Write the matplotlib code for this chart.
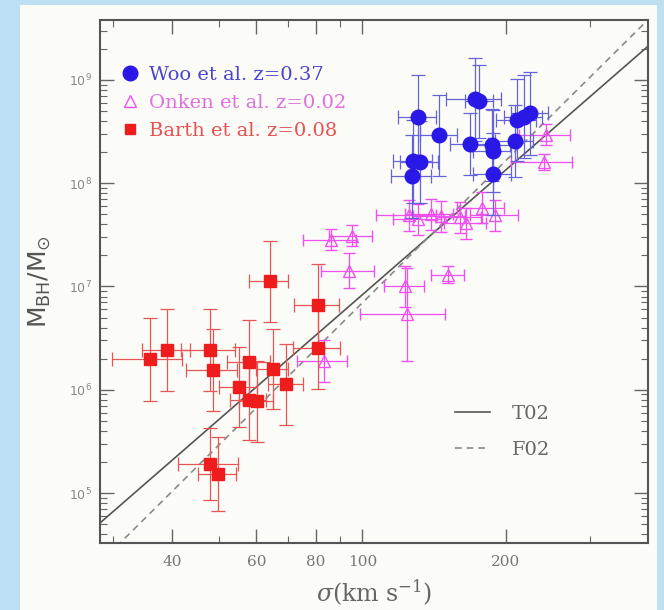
import matplotlib
matplotlib.use('Agg')
import matplotlib.pyplot as plt
import numpy as np
from matplotlib.lines import Line2D
from matplotlib.patches import Rectangle
from matplotlib.ticker import FixedLocator, FixedFormatter, LogLocator, NullFormatter

plt.rcParams['mathtext.fontset'] = 'dejavuserif'

# Woo et al. z=0.37  (sigma in km/s, M_BH in M_sun, errors: km/s and dex)
woo_sigma = [131, 145, 172.5, 176, 168, 187, 188, 188, 209, 211, 218, 225, 128, 132, 127]
woo_mbh = [4.4e8, 2.9e8, 6.5e8, 6.2e8, 2.4e8, 2.35e8, 2.06e8, 1.23e8, 2.57e8, 4.09e8, 4.4e8,
           4.74e8, 1.63e8, 1.6e8, 1.17e8]
woo_sig_err = [12, 13, 23, 12, 15, 17, 17, 17, 19, 20, 20, 20, 12, 12, 12]
woo_dex_err = [0.4, 0.39, 0.4, 0.35, 0.3, 0.35, 0.4, 0.4, 0.35, 0.4, 0.4, 0.4, 0.4, 0.4, 0.4]

# Onken et al. z=0.02
onken_sigma = [243, 240, 125, 131, 139, 146, 160, 165, 178, 190, 86, 95, 94, 123, 151, 124, 83]
onken_mbh = [2.96e8, 1.61e8, 4.9e7, 4.5e7, 5.0e7, 4.8e7, 4.7e7, 4.1e7, 5.8e7, 4.9e7,
             2.84e7, 3.1e7, 1.42e7, 1.0e7, 1.3e7, 5.4e6, 1.9e6]
onken_sig_err = [30, 35, 18, 15, 16, 18, 17, 17, 20, 22, 11, 10, 12, 12, 12, 25, 10]
onken_dex_err = [0.1, 0.08, 0.15, 0.15, 0.15, 0.15, 0.15, 0.15, 0.15, 0.15, 0.1, 0.1,
                 0.17, 0.2, 0.08, 0.45, 0.2]

# Barth et al. z=0.08
barth_sigma = [35.9, 39.0, 47.9, 48.7, 58.0, 65.0, 55.1, 57.8, 60.1, 69.2, 63.9, 80.6, 80.7, 48.0, 49.8]
barth_mbh = [1.97e6, 2.43e6, 2.43e6, 1.56e6, 1.87e6, 1.59e6, 1.06e6, 8.0e5, 7.7e5, 1.13e6,
             1.12e7, 6.56e6, 2.55e6, 1.9e5, 1.52e5]
barth_sig_err = [6, 4.5, 6.2, 6, 6, 5, 5, 5, 5, 5.8, 6, 8.7, 9, 7, 4.5]
barth_dex_err = [0.4, 0.4, 0.4, 0.4, 0.4, 0.39, 0.39, 0.39, 0.39, 0.39, 0.39, 0.4, 0.4, 0.35, 0.36]

# local relations: log M = a + b log(sigma/200)
t02_a, t02_b = 8.13, 4.02
f02_a, f02_b = 8.22, 4.58

x_ticks = [40, 60, 80, 100, 200]
x_minor = [30, 50, 70, 90, 300]

bg_blue = '#bddff4'
panel = '#fbfbf8'

fig = plt.figure(figsize=(6.64, 6.10), dpi=100, facecolor=bg_blue)
fig.patches.append(Rectangle((20 / 664, 0), 637 / 664, 1 - 5 / 610, transform=fig.transFigure,
                             facecolor=panel, edgecolor='none', zorder=-10))
ax = fig.add_axes([100 / 664, 1 - 543 / 610, 548 / 664, 523 / 610])
ax.set_facecolor(panel)
ax.set_xscale('log')
ax.set_yscale('log')


def yerr_of(m, d):
    m = np.asarray(m)
    d = np.asarray(d)
    return [m * (1 - 10 ** -d), m * (10 ** d - 1)]


# relations
sig = np.logspace(np.log10(25), np.log10(420), 50)
ax.plot(sig, 10 ** (t02_a + t02_b * np.log10(sig / 200)), color='#555555', lw=1.2, zorder=2)
ax.plot(sig, 10 ** (f02_a + f02_b * np.log10(sig / 200)), color='#8a8a8a', lw=1.2,
        dashes=(4, 3), zorder=2)

mag = '#f050f0'
ax.errorbar(onken_sigma, onken_mbh, xerr=onken_sig_err, yerr=yerr_of(onken_mbh, onken_dex_err),
            fmt='^', ms=8, mfc='none', mec=mag, mew=1.0, ecolor=mag, elinewidth=0.9,
            capsize=4, capthick=0.9, zorder=3)
red = '#ee1c1c'
ax.errorbar(barth_sigma, barth_mbh, xerr=barth_sig_err, yerr=yerr_of(barth_mbh, barth_dex_err),
            fmt='s', ms=8.5, color=red, ecolor='#e85555', elinewidth=0.9,
            capsize=5, capthick=0.9, zorder=4)
blue = '#2a18e6'
ax.errorbar(woo_sigma, woo_mbh, xerr=woo_sig_err, yerr=yerr_of(woo_mbh, woo_dex_err),
            fmt='o', ms=10.5, color=blue, ecolor='#6464d8', elinewidth=0.9,
            capsize=5, capthick=0.9, zorder=5)

ax.set_xlim(28.2, 397)
ax.set_ylim(3.28e4, 3.81e9)

ax.xaxis.set_major_locator(FixedLocator(x_ticks))
ax.xaxis.set_major_formatter(FixedFormatter([str(v) for v in x_ticks]))
ax.xaxis.set_minor_locator(FixedLocator(x_minor))
ax.xaxis.set_minor_formatter(NullFormatter())
ax.yaxis.set_major_locator(LogLocator(base=10))
ax.yaxis.set_minor_locator(LogLocator(base=10, subs=np.arange(2, 10)))
ax.yaxis.set_minor_formatter(NullFormatter())

ax.tick_params(which='both', direction='in', top=True, right=True, color='#666666')
ax.tick_params(which='major', length=10, width=1)
ax.tick_params(which='minor', length=5, width=0.8)
ax.tick_params(axis='x', which='major', labelsize=11, labelcolor='#777777', pad=9)
ax.tick_params(axis='y', which='major', labelsize=9, labelcolor='#888888', pad=6)
for lab in ax.get_xticklabels():
    lab.set_family('DejaVu Serif')
for s in ax.spines.values():
    s.set_color('#555555')
    s.set_linewidth(1.5)

ax.set_xlabel(r'$\sigma$(km s$^{-1}$)', family='DejaVu Serif', fontsize=17, color='#666666',
              labelpad=6)
ax.set_ylabel(r'$\mathsf{M_{BH}/M_{\odot}}$', fontsize=18, color='#555555')
ax.yaxis.set_label_coords(-0.085, 0.5)

h_data = [Line2D([], [], ls='none', marker='o', ms=10.5, color=blue),
          Line2D([], [], ls='none', marker='^', ms=9, mfc='none', mec=mag, mew=1.0),
          Line2D([], [], ls='none', marker='s', ms=7.5, color=red)]
leg1 = ax.legend(h_data, ['Woo et al. z=0.37', 'Onken et al. z=0.02', 'Barth et al. z=0.08'],
                 loc='upper left', bbox_to_anchor=(0.005, 0.945), frameon=False,
                 handlelength=1.0, handletextpad=0.5, labelspacing=0.5,
                 prop={'family': 'DejaVu Serif', 'size': 14},
                 labelcolor=['#4a44cc', '#e070e0', '#e85050'])
ax.add_artist(leg1)

h_lines = [Line2D([], [], color='#555555', lw=1.2),
           Line2D([], [], color='#8a8a8a', lw=1.2, dashes=(4, 3))]
ax.legend(h_lines, ['T02', 'F02'], loc='upper left', bbox_to_anchor=(0.615, 0.297),
          frameon=False, handlelength=1.85, handletextpad=1.1, labelspacing=0.9,
          prop={'family': 'DejaVu Serif', 'size': 14}, labelcolor='#666666')

fig.savefig('out.png', dpi=100, facecolor=fig.get_facecolor())
